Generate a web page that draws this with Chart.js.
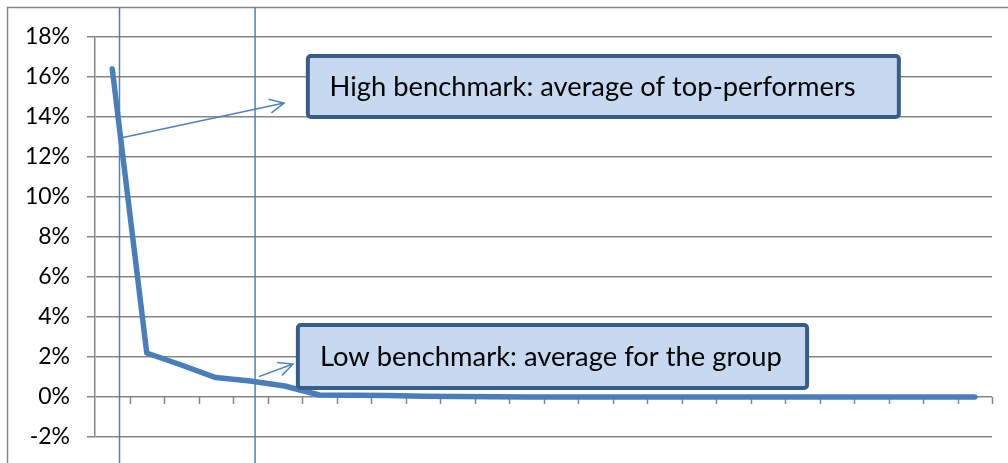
<!DOCTYPE html>
<html>
<head>
<meta charset="utf-8">
<script src="https://cdn.jsdelivr.net/npm/chart.js@4.4.1/dist/chart.umd.min.js"></script>
<style>
  html, body { margin: 0; padding: 0; background: #fff; }
  #wrap { width: 1008px; height: 463px; }
</style>
</head>
<body>
<div id="wrap"><canvas id="chart" width="1008" height="463"></canvas></div>
<script>
// ranked members of the group, no labels shown on the axis
const categories = ['1', '2', '3', '4', '5', '6', '7', '8', '9', '10', '11', '12', '13',
  '14', '15', '16', '17', '18', '19', '20', '21', '22', '23', '24', '25', '26'];
// share in percent
const shareValues = [16.4, 2.2, 1.6, 0.97, 0.8, 0.55, 0.1, 0.09, 0.07, 0.04, 0.02, 0.01, 0,
  0, 0, 0, 0, 0, 0, 0, 0, 0, 0, 0, 0, 0];
const yTicks = [-2, 0, 2, 4, 6, 8, 10, 12, 14, 16, 18];
const benchmarkTexts = ['High benchmark: average of top-performers', 'Low benchmark: average for the group'];

// annotation geometry in chart units (category index, percent)
const markerLines = [0.21, 4.14];
const notes = [
  {box: [5.67, 22.8, 17.05, 14.0], textX: 6.3, width: 526, arrow: [0.31, 12.97, 4.98, 14.7]},
  {box: [5.38, 20.14, 3.6, 0.45], textX: 6.02, width: 462, arrow: [4.25, 1.02, 5.24, 1.65]}
];

const GRID = '#868686';
const BLUE = '#4f81bd';
const FONT = 'Lato, "Open Sans", sans-serif';

function px(chart, i, v) {
  return [chart.scales.x.getPixelForValue(i), chart.scales.y.getPixelForValue(v)];
}

const decorations = {
  id: 'decorations',
  beforeDraw(chart) {
    const ctx = chart.ctx;
    ctx.save();
    ctx.strokeStyle = GRID;
    ctx.lineWidth = 1.5;
    ctx.beginPath();
    ctx.moveTo(7.5, chart.height);
    ctx.lineTo(7.5, 7.5);
    ctx.lineTo(chart.width, 7.5);
    ctx.stroke();
    ctx.restore();
  },
  beforeDatasetsDraw(chart) {
    const ctx = chart.ctx;
    const xs = chart.scales.x;
    const step = xs.getPixelForValue(1) - xs.getPixelForValue(0);
    const y0 = chart.scales.y.getPixelForValue(0);
    ctx.save();
    // category tick marks on the zero line
    ctx.strokeStyle = GRID;
    ctx.lineWidth = 1.5;
    ctx.beginPath();
    for (let i = 1; i <= categories.length; i++) {
      const x = Math.round(xs.getPixelForValue(i) - step / 2) + 0.5;
      ctx.moveTo(x, y0);
      ctx.lineTo(x, y0 + 7);
    }
    ctx.stroke();
    // vertical benchmark markers
    ctx.strokeStyle = BLUE;
    ctx.lineWidth = 1.5;
    markerLines.forEach(m => {
      const x = xs.getPixelForValue(m);
      ctx.beginPath();
      ctx.moveTo(x, 7);
      ctx.lineTo(x, chart.height);
      ctx.stroke();
    });
    ctx.restore();
  },
  afterDatasetsDraw(chart) {
    const ctx = chart.ctx;
    notes.forEach((n, k) => {
      ctx.save();
      // arrow
      const [ax, ay] = px(chart, n.arrow[0], n.arrow[1]);
      const [bx, by] = px(chart, n.arrow[2], n.arrow[3]);
      const ang = Math.atan2(by - ay, bx - ax);
      ctx.strokeStyle = BLUE;
      ctx.lineWidth = 1.5;
      ctx.beginPath();
      ctx.moveTo(ax, ay);
      ctx.lineTo(bx, by);
      ctx.moveTo(bx - 16 * Math.cos(ang - 0.45), by - 16 * Math.sin(ang - 0.45));
      ctx.lineTo(bx, by);
      ctx.lineTo(bx - 16 * Math.cos(ang + 0.45), by - 16 * Math.sin(ang + 0.45));
      ctx.stroke();
      // box
      const [x1, y1] = px(chart, n.box[0], n.box[2]);
      const [x2, y2] = px(chart, n.box[1], n.box[3]);
      ctx.beginPath();
      ctx.roundRect(x1, y1, x2 - x1, y2 - y1, 3);
      ctx.fillStyle = '#c6d9f1';
      ctx.fill();
      ctx.lineWidth = 4;
      ctx.strokeStyle = '#385d8a';
      ctx.stroke();
      // text: tall like the original face, squeezed to the original width
      ctx.font = `26px ${FONT}`;
      const sx = n.width / ctx.measureText(benchmarkTexts[k]).width;
      ctx.fillStyle = '#000';
      ctx.textBaseline = 'middle';
      ctx.translate(px(chart, n.textX, 0)[0], (y1 + y2) / 2 + 1);
      ctx.scale(sx, 1);
      ctx.fillText(benchmarkTexts[k], 0, 0);
      ctx.restore();
    });
  }
};

new Chart(document.getElementById('chart'), {
  type: 'line',
  data: {
    labels: categories,
    datasets: [{
      data: shareValues,
      borderColor: '#4a7ebb',
      borderWidth: 5.5,
      borderJoinStyle: 'round',
      borderCapStyle: 'round',
      pointRadius: 0,
      tension: 0,
      fill: false
    }]
  },
  options: {
    responsive: false,
    animation: false,
    layout: {padding: {top: 37, right: 16, bottom: 26, left: 0}},
    plugins: {legend: {display: false}, tooltip: {enabled: false}},
    scales: {
      x: {
        display: false,
        offset: true
      },
      y: {
        min: -2,
        max: 18,
        afterBuildTicks: s => { s.ticks = yTicks.map(v => ({value: v})); },
        afterFit: s => { s.width = 95; s.paddingTop = 0; s.paddingBottom = 0; },
        ticks: {
          callback: v => v + '%',
          color: '#000',
          padding: 17,
          font: {family: FONT, size: 23}
        },
        grid: {color: GRID, lineWidth: 1.5, tickLength: 8},
        border: {color: GRID, width: 1.5}
      }
    }
  },
  plugins: [decorations]
});
</script>
</body>
</html>
